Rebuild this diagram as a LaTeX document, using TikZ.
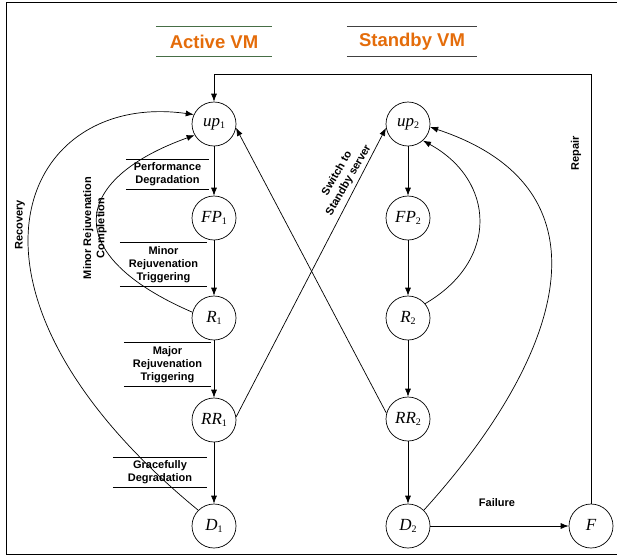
\documentclass[tikz,border=0pt]{standalone}
\usepackage{fontspec}
\setsansfont{Liberation Sans}
\newfontfamily\statefont{Liberation Serif}
\usetikzlibrary{arrows.meta}
\definecolor{vmorange}{RGB}{228,108,10}
\definecolor{vmgreen}{RGB}{70,110,70}
\newcommand{\stname}[2]{{\itshape #1}\raisebox{-0.35ex}{\fontsize{10}{10}\selectfont #2}}
\tikzset{
    state/.style={circle, draw, line width=0.7pt, minimum size=44pt, inner sep=0pt,
        font=\fontsize{17}{18}\statefont},
    lbl/.style={font=\fontsize{11}{13.3}\selectfont\sffamily\bfseries, align=center, inner sep=0pt},
    trans/.style={lbl, minimum height=#1},
    title/.style={font=\fontsize{18.5}{20}\selectfont\sffamily\bfseries, text=vmorange,
        minimum height=29pt, inner sep=0pt},
    edge/.style={->, line width=0.7pt},
}
\begin{document}
\begin{tikzpicture}[x=1pt, y=-1pt, >={Latex[length=8pt,width=6pt]}]
    \useasboundingbox (0,0) rectangle (617,558);
    % Rahmen
    \draw[line width=1pt] (617,2) -- (6,2) -- (6,554) -- (617,554);

    % Überschriften
    \node[title, minimum width=116pt] (act) at (214,41.5) {Active VM};
    \node[title, minimum width=130pt] (stb) at (412,41.5) {Standby VM};
    \draw[vmgreen, line width=1pt] (act.north west) -- (act.north east)
        (act.south west) -- (act.south east);
    \draw[black!75, line width=1pt] (stb.north west) -- (stb.north east)
        (stb.south west) -- (stb.south east);

    % Zustände
    \node[state] (up1) at (214,124) {\stname{up}{1}};
    \node[state] (fp1) at (214,218) {\stname{FP}{1}};
    \node[state] (r1)  at (214,318) {\stname{R}{1}};
    \node[state] (rr1) at (214,420) {\stname{RR}{1}};
    \node[state] (d1)  at (214,526) {\stname{D}{1}};
    \node[state] (up2) at (408,124) {\stname{up}{2}};
    \node[state] (fp2) at (408,218) {\stname{FP}{2}};
    \node[state] (r2)  at (408,318) {\stname{R}{2}};
    \node[state] (rr2) at (408,419) {\stname{RR}{2}};
    \node[state] (d2)  at (408,526) {\stname{D}{2}};
    \node[state] (f)   at (591,526) {\stname{F}{}};

    % Übergänge
    \foreach \a/\b in {up1/fp1, fp1/r1, r1/rr1, rr1/d1, up2/fp2, fp2/r2, r2/rr2, rr2/d2, d2/f}
        \draw[edge] (\a) -- (\b);

    % Beschriftungen der Übergänge
    \node[trans=29pt, minimum width=83pt] (pd)  at (167.5,174.5) {Performance\\Degradation};
    \node[trans=43pt, minimum width=87pt] (mit) at (163.5,264.5) {Minor\\Rejuvenation\\Triggering};
    \node[trans=43pt, minimum width=87pt] (mat) at (167.5,364.5) {Major\\Rejuvenation\\Triggering};
    \node[trans=29pt, minimum width=94pt] (gd)  at (160,472.5) {Gracefully\\Degradation};
    \foreach \n in {pd, mit, mat, gd}
        \draw[line width=0.7pt] (\n.north west) -- (\n.north east) (\n.south west) -- (\n.south east);

    % Rückwege
    \draw[edge] (d1.135) .. controls (-70,290) and (20,90) .. (up1.155);
    \draw[edge] (r1.165) .. controls (60,255) and (70,180) .. (up1.210);
    \draw[edge] (r2.40) .. controls (500,260) and (495,180) .. (up2.312);
    \draw[edge] (d2.45) .. controls (560,360) and (620,190) .. (up2.352);
    \draw[edge] (rr1.8) -- (up2.190);
    \draw[edge] (rr2.165) -- (up1.350);
    \coordinate (top) at (0,74);
    \draw[edge] (f.north) -- (f.north |- top) -| (up1.north);

    \node[lbl, rotate=90] (rec) at (20,225) {Recovery};
    \node[lbl, rotate=90] (mrc) at (95,228) {Minor Rejuvenation\\Completion};
    \node[lbl, rotate=60] (sw)  at (343,177) {Switch to\\Standby server};
    \node[lbl, rotate=90] (rep) at (576,153) {Repair};
    \node[lbl] (fail) at (497,503) {Failure};
\end{tikzpicture}
\end{document}
